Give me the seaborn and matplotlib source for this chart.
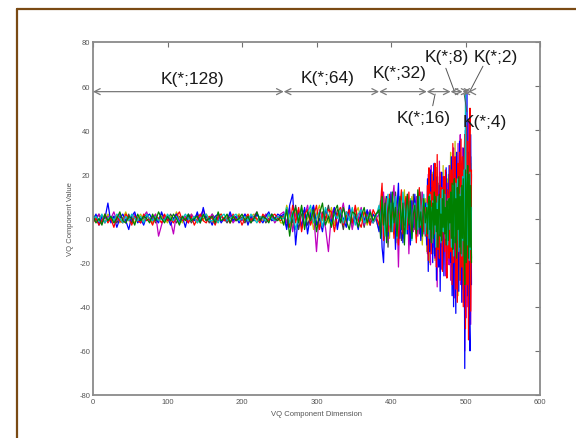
import numpy as np
import pandas as pd
import matplotlib
matplotlib.use("Agg")
import matplotlib.pyplot as plt
from matplotlib.lines import Line2D
import seaborn as sns

# ---------------- data ----------------
# VQ component dimensions (sampled; dense near the end)
dims = np.r_[0:256:4, 256:384:4, 384:448:2, 448:509]

series_names = ["c7", "c6", "c5", "c1", "c3", "c4", "c2"]
series_colors = [(0.25, 0.25, 0.25), (0.75, 0.75, 0), (0.75, 0, 0.75),
                 (0, 0, 1), (1, 0, 0), (0, 0.75, 0.75), (0, 0.5, 0)]

blue = ([-1, 2, -3, 1, 0, 7, -2, 1,
         -4, 0, 2, -1, -5, 1, 3, -2,
         0, -3, 1, 2, -1, 0, -2, 3,
         -1, 1, -3, 0, 2, -2, 1, -4,
         2, 0, -1, 3, -2, 5, -1, 0,
         -3, 1, 2, -2, 0, -1, 3, -1,
         1, -2, 0, 2, -3, 1, -1, 2,
         0, -2, 1, 3, -1, 0, 2, 1]
        + [2, -5, 6, 11, -12, 3, -4, 5,
           -7, 2, 6, -3, 0, -6, 4, 1,
           -2, 5, -5, 3, 0, -4, 6, -2,
           1, -5, 3, -1, 4, -3, 2, 0]
        + [-6, 8, -13, -20, 5, 10, -8, 3,
           12, -5, 7, -14, 4, 16, -9, 2,
           -11, 6, 9, -7, 3, -12, 8, -4,
           11, -6, 2, 9, -10, 5, -3, 7]
        + [-12, 18, -24, 9, -15, 22, -8, 14,
           -20, 6, 25, -17, 11, -28, 19, -5,
           -22, 15, -33, 8, 21, -13, 4, -26,
           17, -10, 23, -19, 12, -7, 24, -16]
        + [-20, 28, -35, 15, -40, 22, -12, -43,
           30, -25, 18, -33, 35, -15, 25, -38,
           20, -30, 32, -68, 40, -22, 57, -35,
           30, -45, -60, 38, -30])

green = ([1, -2, 0, -3, 2, -1, 1, -2,
          0, 3, -1, -2, 1, 0, -3, 2,
          -1, 1, 0, -2, 2, -1, 3, 0,
          -2, 1, -1, 2, 0, -3, 1, -1,
          2, -1, 0, 1, -2, 2, -1, 0,
          1, -2, 3, -1, 0, 2, -2, 1,
          -1, 0, 2, -1, 1, -2, 0, 3,
          -1, 1, 0, -2, 2, 0, -1, 1]
         + [-3, 4, -8, 2, 5, -2, 6, -5,
            3, -1, 4, -6, 2, 7, -3, 1,
            -4, 3, 6, -2, 5, -1, -5, 3,
            2, -4, 1, 5, -2, 3, -1, 2]
         + [4, -9, 10, -3, 7, -11, 2, 9,
            -6, 12, -2, 5, -8, 3, 10, -5,
            7, -12, 4, 11, -3, 8, -9, 2,
            6, -7, 13, -4, 3, -8, 9, -2]
         + [5, -7, 4, 10, -5, 8, -11, 3,
            7, -9, 12, -3, 10, -6, 4, -13,
            6, 11, -8, 2, -10, 9, -4, 13,
            -7, 5, -12, 8, 3, -10, 9, -2]
         + [12, -9, 16, -14, 6, 18, -11, 9,
            -18, 14, -5, 19, -13, 10, -16, 15,
            -9, 18, -14, -30, 22, -20, 15, 24,
            -18, 20, -13, 15, -20])

red = ([-2, 0, -3, -1, 2, -2, 0, -4,
        1, -1, -2, 2, 0, -3, 1, -1,
        -2, 2, -1, 0, -3, 1, 0, -2,
        2, -1, 0, -2, 1, 3, -1, 0,
        -2, 1, -3, 0, 2, -1, -2, 1,
        0, -3, 1, 2, -1, 0, -2, 2,
        -1, 1, -3, 0, 2, -1, 1, 0,
        -2, 2, 0, -1, 1, 2, 0, -1]
       + [1, 3, -4, 6, -2, 5, -6, 2,
          4, -3, 1, 6, -5, 2, -1, 4,
          3, -6, 2, 5, -3, 1, 4, -2,
          6, -1, -4, 3, 1, -3, 4, 1]
       + [-3, 7, 16, -10, 2, 9, -6, 11,
          -4, 3, -9, 8, 1, -12, 6, 13,
          -7, 4, 10, -5, 12, -2, -8, 6,
          3, -11, 7, 14, -4, 9, -6, 5]
       + [-8, 15, -19, 23, -4, 12, -16, 20,
          -11, 17, -7, 25, 9, -22, 29, -14,
          6, -18, 21, -9, 14, -24, 10, 19,
          -15, 22, -5, -27, 13, 8, -18, 24]
       + [-15, 22, -30, 34, -20, 10, 28, -32,
          18, -38, 25, -12, 30, -28, 36, -22,
          28, -40, 24, 38, -50, 42, -30, 35,
          -55, 28, 50, -42, 22])

cyan = ([0, 1, -1, 2, -2, 0, 1, -1,
         2, 0, -2, 1, -1, 2, 0, -1,
         1, -2, 2, 0, -1, 1, -1, 0,
         -1, 2, 0, -1, 1, -2, 0, 2,
         0, -1, 1, -2, 0, 1, 2, -1,
         -1, 0, -2, 1, 2, -1, 0, 1,
         2, -1, 0, 1, -1, 2, 0, -2,
         1, 0, -1, 2, 0, -1, 1, 0]
        + [0, 5, -2, 3, -5, 1, 4, -3,
           2, 6, -2, 0, 3, -4, 5, 1,
           -3, 2, 0, 4, -2, 3, -1, 5,
           -3, 2, 4, -2, 0, 3, -2, 1]
        + [6, -4, 9, 2, -8, 5, 11, -3,
           7, -6, 4, 10, -9, 2, 8, -5,
           12, 3, -7, 6, -2, 9, -10, 4,
           7, 1, -5, 10, -3, 6, 11, -7]
        + [7, -4, 6, -9, 11, -2, 5, -11,
           8, -6, 2, 10, -13, 7, -3, 10,
           -7, 4, 9, -11, 3, 13, -6, -2,
           11, -9, 5, 3, -12, 9, -5, 8]
        + [9, -13, 6, 15, -17, 13, -8, 16,
           -10, 8, 18, -15, 11, -9, 14, -17,
           19, -10, 22, -18, 58, -15, 20, -12,
           18, -19, 21, -14, 5])

magenta = ([1, -1, 2, 0, -2, 1, 0, 3,
            -1, 2, 0, -2, 1, -1, 2, 0,
            -2, 1, 3, -1, 0, 2, -8, -3,
            1, 0, -1, -7, 2, -1, 0, 1,
            -2, 2, 0, -1, 1, 4, -1, 0,
            2, -2, 0, 1, -1, 0, 2, -2,
            0, 1, -1, 2, 0, -2, 1, 3,
            -1, 0, 2, -1, 1, -2, 0, 2]
           + [3, -2, 5, -6, 2, 4, -3, 1,
              6, -2, 3, -15, 4, 1, -4, -15,
              2, 5, -3, 1, 7, -2, 4, -5,
              2, 0, 5, -3, 1, 4, -2, 0]
           + [2, -7, 5, 12, -4, 8, -10, 3,
              -6, 9, 15, -5, 4, -22, 6, 1,
              -9, 7, -3, 11, -16, 4, 8, -6,
              2, 10, -8, 5, -4, 12, -7, 3]
           + [5, -16, 20, -10, 8, -21, 24, -6,
              17, -13, 9, -18, 22, -4, -31, 12,
              -19, 26, -8, 15, -23, 7, 19, -14,
              10, -26, 21, -11, 16, -5, -21, 13]
           + [-28, 15, -20, 26, 32, -36, 20, -18,
              24, -30, 34, -22, 16, 38, -30, -26,
              32, -38, 28, -60, 35, -45, 25, -40,
              44, -35, 30, -48, 20])

olive = ([2, 0, -1, 1, -2, 2, 0, -1,
          1, -2, 0, 3, -1, 1, -2, 0,
          2, -1, 1, 0, -2, 2, -1, 1,
          0, -2, 1, -1, 3, 0, -2, 1,
          -1, 2, 0, -2, 1, -1, 2, 0,
          -2, 1, 0, 2, -1, 1, -2, 0,
          1, 2, -1, 0, -2, 1, 2, -1,
          0, -1, 2, 1, -1, 0, 1, -2]
         + [-2, 6, 1, -4, 3, -1, 5, -3,
            0, 4, -5, 2, 6, -1, 3, -2,
            5, -3, 1, 4, -2, 0, 3, -4,
            2, 5, -1, 3, -3, 1, 2, -1]
         + [-5, 8, -2, 6, 10, -7, 3, -9,
            11, 4, -5, 7, -11, 9, 2, -6,
            5, 13, -4, 8, -7, 1, 10, -3,
            6, -9, 4, 8, -2, -12, 5, 9]
         + [-15, 9, -5, 17, -20, 12, 3, -13,
            21, -8, 15, -19, 6, 23, -16, 10,
            -7, 19, -24, 11, 2, -17, 24, -9,
            14, -21, 7, 18, -12, 20, -14, 5]
         + [30, -22, 20, -32, 25, -15, 35, -26,
            12, 30, -35, 22, -28, 32, -20, 26,
            -32, 28, -22, 35, -42, 30, -38, 45,
            -28, 36, -40, 25, -20])

dark = ([-1, 0, 2, -2, 1, -1, 0, 1,
         -2, 1, 0, -1, 2, -2, 1, 0,
         -1, 0, 2, -1, 1, -2, 0, 2,
         1, -1, 2, 0, -2, 1, -1, 0,
         1, -2, 0, 2, -1, 0, 1, -2,
         2, 0, -1, 1, 0, -2, 1, 0,
         -1, 2, 0, -2, 1, 0, -1, 2,
         0, 1, -2, 0, 2, -1, 0, 1]
        + [1, -4, 3, -2, 6, -5, 2, 4,
           -3, 1, 5, -2, -4, 3, 0, 6,
           -1, -3, 4, 2, -5, 3, 1, -2,
           4, -1, 2, -4, 3, 0, -2, 2]
        + [3, -6, 11, -8, 4, 7, -13, 5,
           -2, 8, -7, 12, 3, -5, 9, -10,
           4, -3, 7, 10, -6, 2, -9, 11,
           -5, 8, 3, -7, 12, -4, 6, -8]
        + [7, -14, 10, -4, 12, -9, 15, -11,
           3, 10, -16, 6, -8, 12, 5, -13,
           16, -6, 9, -12, 14, -2, -10, 7,
           -14, 10, 12, -6, 15, -16, 8, -7]
        + [-10, 20, -18, 14, -24, 18, -20, 16,
           -15, 22, -12, 19, -24, 16, -18, 25,
           -16, 20, -28, 22, -30, 24, -22, 26,
           -28, 20, -24, 28, -18])

# annotation segments (codebook partitions) and their labels
seg_bounds = [0, 256, 384, 448, 480, 496, 504, 508]
seg_labels = ["K(*;128)", "K(*;64)", "K(*;32)", "K(*;16)", "K(*;8)", "K(*;4)", "K(*;2)"]

x_ticks = [0, 100, 200, 300, 400, 500, 600]
y_ticks = [-80, -60, -40, -20, 0, 20, 40, 60, 80]

# ---------------- build table ----------------
series_values = {"c1": blue, "c2": green, "c3": red, "c4": cyan,
                 "c5": magenta, "c6": olive, "c7": dark}
frames = []
for name in series_names:
    frames.append(pd.DataFrame({"dim": dims, "value": series_values[name], "series": name}))
df = pd.concat(frames, ignore_index=True)

# ---------------- style ----------------
sns.set_theme(style="white", rc={
    "xtick.direction": "in", "ytick.direction": "in",
    "xtick.top": True, "ytick.right": True,
    "axes.unicode_minus": False,
})
plt.rcParams["font.family"] = ["Liberation Sans", "DejaVu Sans"]

fig = plt.figure(figsize=(5.76, 4.39), dpi=100)
ax = fig.add_axes([93 / 576, 43 / 439, 447 / 576, 353 / 439])

sns.lineplot(data=df, x="dim", y="value", hue="series", hue_order=series_names,
             palette=series_colors, estimator=None, sort=False, legend=False,
             linewidth=0.9, ax=ax)

ax.set_xlim(0, 600)
ax.set_ylim(-80, 80)
ax.set_xticks(x_ticks)
ax.set_yticks(y_ticks)
ax.tick_params(axis="both", which="both", direction="in", length=3.5, width=0.8,
               color="#707070", labelsize=5.5, labelcolor="#555555",
               top=True, right=True, pad=2)
for sp in ax.spines.values():
    sp.set_color("#8a8a8a")
    sp.set_linewidth(1.3)
    sp.set_visible(True)
ax.set_xlabel("VQ Component Dimension", fontsize=5.5, color="#555555", labelpad=4)
ax.set_ylabel("VQ Component Value", fontsize=5.5, color="#555555", labelpad=4)

# ---------------- annotations ----------------
arrow_y = 57.5
for x0, x1 in zip(seg_bounds[:-1], seg_bounds[1:]):
    ax.annotate("", xy=(x1, arrow_y), xytext=(x0, arrow_y),
                arrowprops=dict(arrowstyle="<->,head_length=0.35,head_width=0.18",
                                color="#7a7a7a", lw=0.9, shrinkA=0, shrinkB=0))

label_pos = {
    "K(*;128)": (133, 63.4),
    "K(*;64)": (314.5, 64.1),
    "K(*;32)": (411, 66.0),
    "K(*;16)": (444.4, 45.6),
    "K(*;8)": (475, 73.6),
    "K(*;4)": (526.5, 44.0),
    "K(*;2)": (540, 73.6),
}
for lab in seg_labels:
    x, y = label_pos[lab]
    ax.text(x, y, lab, ha="center", va="center", fontsize=12.5, color="#1a1a1a")

leaders = [((473.6, 68.1), (484.7, 58.0)),
           ((523.4, 69.0), (506.4, 58.0)),
           ((456.0, 51.1), (459.2, 56.4)),
           ((501.8, 48.4), (498.2, 56.4))]
for (xa, ya), (xb, yb) in leaders:
    ax.plot([xa, xb], [ya, yb], color="#555555", lw=0.7)

# outer brown frame (left and top edges)
fx = 17 / 576
fy = 1 - 10 / 439
fig.add_artist(Line2D([fx, fx], [0, fy], transform=fig.transFigure,
                      color="#7a4a14", lw=1.6))
fig.add_artist(Line2D([fx, 1], [fy, fy], transform=fig.transFigure,
                      color="#7a4a14", lw=1.6))

fig.savefig("out.png", dpi=100)
